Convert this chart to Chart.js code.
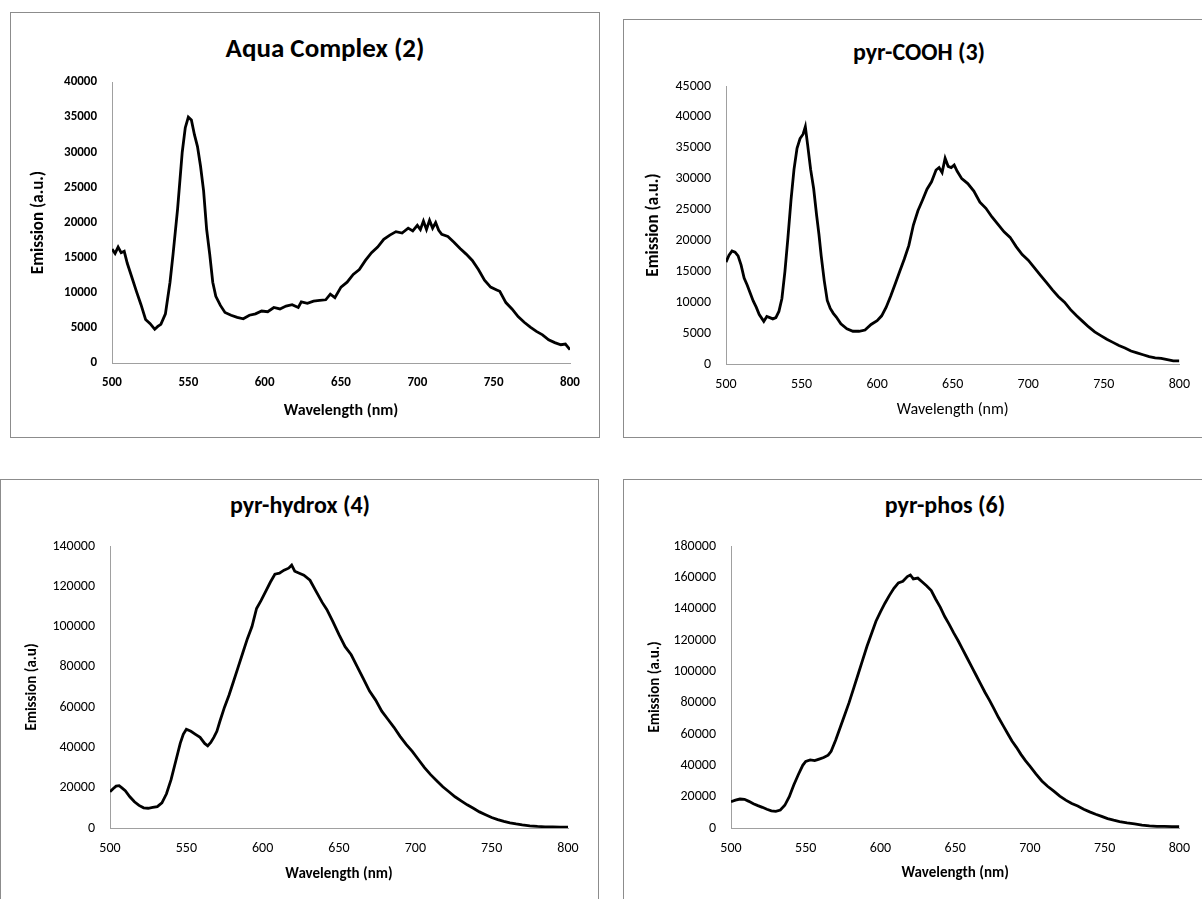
<!DOCTYPE html>
<html>
<head>
<meta charset="utf-8">
<title>Emission spectra</title>
<script src="https://cdn.jsdelivr.net/npm/chart.js@4.4.1/dist/chart.umd.min.js"></script>
<style>
  body { margin: 0; background: #fff; width: 1202px; height: 899px; overflow: hidden; position: relative; }
  .panel { position: absolute; border: 1px solid #8c8c8c; background: #fff; }
  .panel canvas { position: absolute; left: 0; top: 0; }
  .ptitle { position: absolute; transform: translate(-50%, -50%); white-space: nowrap;
            font-family: Carlito, Lato, sans-serif; font-weight: bold; color: #000; }
</style>
</head>
<body>

<div class="panel" id="p1" style="left:10px; top:12px; width:588px; height:424px;">
  <div class="ptitle" style="left:314px; top:34px; font-size:27px;">Aqua Complex (2)</div>
  <canvas id="c1" width="588" height="424"></canvas>
</div>
<div class="panel" id="p2" style="left:623px; top:19px; width:600px; height:417px;">
  <div class="ptitle" style="left:295px; top:31px; font-size:24px;">pyr-COOH (3)</div>
  <canvas id="c2" width="578" height="417"></canvas>
</div>
<div class="panel" id="p3" style="left:0px; top:479px; width:597px; height:430px;">
  <div class="ptitle" style="left:299px; top:24px; font-size:24px;">pyr-hydrox (4)</div>
  <canvas id="c3" width="597" height="419"></canvas>
</div>
<div class="panel" id="p4" style="left:623px; top:479px; width:600px; height:430px;">
  <div class="ptitle" style="left:321px; top:24px; font-size:24px;">pyr-phos (6)</div>
  <canvas id="c4" width="578" height="419"></canvas>
</div>

<script>
// Aqua Complex (2)
const aquaWl = [500,502,504,506,508,510,513,516,519,522,525,528,530,532,535,538,540,543,546,548,550,552,554,556,558,560,562,564,566,568,571,574,578,582,586,590,594,598,602,606,610,614,618,622,624,628,632,636,640,643,646,650,654,658,662,666,670,674,678,682,686,690,694,697,700,702,704,706,708,710,712,714,716,720,724,728,732,736,740,744,748,752,754,758,762,766,770,774,778,782,786,790,794,797,800];
const aquaEm = [16200,15600,16500,15700,15900,14200,12200,10200,8300,6200,5600,4800,5200,5500,7000,11500,15500,22000,30000,33500,35000,34600,32500,30800,28000,24500,19000,15500,11500,9500,8200,7200,6800,6500,6300,6800,7000,7400,7300,7900,7700,8100,8300,7900,8700,8500,8800,8900,9000,9800,9300,10800,11500,12600,13300,14600,15700,16500,17600,18200,18700,18500,19200,18800,19600,19000,20200,19000,20300,19200,20000,18900,18300,18000,17200,16300,15500,14600,13300,11800,10800,10400,10200,8600,7700,6600,5800,5100,4500,4000,3300,2900,2600,2700,1900];

// pyr-COOH (3)
const coohWl = [500,502,504,506,508,510,512,514,516,518,520,522,525,527,529,531,533,535,537,539,541,543,545,547,549,551,552.5,554,556,558,560,561.5,563,565,567,569,571,573,576,580,584,588,592,596,600,603,606,609,612,615,618,621,624,627,630,633,636,639,641,643,645,647,649,651,653,656,660,664,668,672,676,680,684,688,692,696,700,704,708,712,716,720,724,728,732,736,740,744,748,752,756,760,764,768,772,776,780,784,788,792,796,800];
const coohEm = [16500,17600,18300,18100,17500,16000,13900,12800,11500,10200,9200,8000,6900,7700,7500,7300,7500,8500,10600,15000,20500,26500,31500,34900,36500,37200,38400,35500,31500,28400,24000,21000,17500,13500,10300,9000,8200,7600,6500,5700,5300,5300,5500,6400,7000,7800,9200,11000,13000,15000,17000,19200,22500,24800,26500,28300,29500,31400,31800,31000,33300,32000,31800,32200,31200,30000,29200,28000,26200,25200,23800,22600,21400,20500,19000,17700,16800,15600,14400,13200,12000,10900,10000,8800,7800,6900,6000,5200,4600,4000,3500,3000,2600,2100,1800,1500,1200,1000,900,700,500,500];

// pyr-hydrox (4)
const hydroxWl = [500,502,504,506,508,510,513,516,519,522,525,528,531,534,537,540,543,546,548,550,553,556,559,562,564,566,568,570,572,575,578,581,584,587,590,593,596,599,602,605,608,611,614,617,619,621,624,627,631,635,639,642,646,650,654,658,662,666,670,674,678,682,686,690,694,698,702,706,710,714,718,722,726,730,734,738,742,746,750,754,758,762,766,770,775,780,785,790,795,800];
const hydroxEm = [18000,19500,20800,21000,19800,18500,15500,13000,11200,10000,9800,10200,10600,12500,17000,24000,33000,42000,46500,49000,48000,46500,45000,42000,40800,42500,45000,48000,53000,60000,66000,73000,80000,87000,94000,100000,109000,113000,117500,122000,126000,126500,128000,129000,130500,127500,126500,125500,123000,117500,112000,108500,102500,96000,90000,86000,80000,74000,68000,63500,58000,54000,50000,45500,41500,38000,34000,30000,26500,23500,20500,18000,15500,13500,11500,9800,8000,6600,5200,4200,3300,2600,2000,1500,1100,800,600,500,400,400];

// pyr-phos (6)
const phosWl = [500,503,506,509,512,515,518,521,524,527,530,533,536,539,542,545,548,550,553,556,559,562,565,567,570,573,576,579,582,585,588,591,594,597,600,603,606,609,612,615,618,620,622,625,628,631,634,637,640,643,646,649,652,655,658,661,664,667,670,673,676,679,682,685,688,691,694,697,700,704,708,712,716,720,724,728,732,736,740,744,748,752,756,760,765,770,775,780,785,790,795,800];
const phosEm = [16800,17800,18500,18300,17000,15500,14300,13200,12000,11000,10600,11500,14500,20000,27500,34000,40000,42500,43500,43000,44000,45000,46500,49000,56000,64000,72000,80000,89000,98000,107000,116000,124000,132000,138000,143500,148500,153000,156500,157500,160500,161500,159000,159500,157000,154500,151500,146000,141000,135000,130000,124500,119500,114000,108500,103000,97500,92000,86500,81500,76000,70500,65500,60500,55500,51500,47000,43000,39500,34500,30000,26500,23500,20300,17800,15600,14000,12000,10300,8800,7400,6000,5000,4100,3300,2700,1900,1400,1100,1000,900,800];

const xTicks = { min: 500, max: 800, step: 50 };
const fontFamily = "Carlito, Lato, sans-serif";

function toPoints(wl, em) {
  return wl.map((w, i) => ({ x: w, y: em[i] }));
}

function makePanel(id, cfg) {
  const canvas = document.getElementById(id);
  const W = canvas.width, H = canvas.height;
  const lineHeight = 1.2;
  new Chart(canvas, {
    type: 'line',
    data: {
      datasets: [{
        data: toPoints(cfg.wl, cfg.em),
        borderColor: '#000',
        borderWidth: 2.8,
        pointRadius: 0,
        tension: 0,
        fill: false
      }]
    },
    options: {
      responsive: false,
      animation: false,
      devicePixelRatio: 1,
      layout: { padding: { left: 0, right: W - cfg.plot.right, top: cfg.plot.top, bottom: 0 } },
      plugins: { legend: { display: false }, tooltip: { enabled: false } },
      scales: {
        x: {
          type: 'linear',
          min: xTicks.min, max: xTicks.max,
          grid: { display: false, drawTicks: false },
          border: { display: true, color: '#a0a0a0', width: 1 },
          ticks: {
            stepSize: xTicks.step, padding: cfg.xTickPad, color: '#000',
            font: { family: fontFamily, size: cfg.tickSize, weight: cfg.tickWeight },
            maxRotation: 0
          },
          title: {
            display: true, text: 'Wavelength (nm)', color: '#000',
            font: { family: fontFamily, size: cfg.xTitleSize, weight: cfg.xTitleWeight, lineHeight: lineHeight },
            padding: { top: 0, bottom: H - cfg.xTitleY - cfg.xTitleSize * lineHeight / 2 }
          },
          afterFit: (scale) => { scale.height = H - cfg.plot.bottom; }
        },
        y: {
          min: 0, max: cfg.yMax,
          grid: { display: false, drawTicks: false },
          border: { display: true, color: '#a0a0a0', width: 1 },
          ticks: {
            stepSize: cfg.yStep, padding: 15, color: '#000',
            font: { family: fontFamily, size: cfg.tickSize, weight: cfg.tickWeight },
            callback: (v) => String(v)
          },
          title: {
            display: true, text: cfg.yTitle, color: '#000',
            font: { family: fontFamily, size: cfg.yTitleSize, weight: 'bold', lineHeight: lineHeight },
            padding: { top: cfg.yTitleX - cfg.yTitleSize * lineHeight / 2, bottom: 0 }
          },
          afterFit: (scale) => { scale.width = cfg.plot.left; }
        }
      }
    }
  });
}

makePanel('c1', {
  wl: aquaWl, em: aquaEm, yMax: 40000, yStep: 5000, yTitle: 'Emission (a.u.)',
  plot: { left: 101, right: 559, top: 69, bottom: 350 },
  tickSize: 13, tickWeight: 'bold', yTitleSize: 17, xTitleSize: 16, xTitleWeight: 'bold',
  xTickPad: 12, xTitleY: 398, yTitleX: 28
});
makePanel('c2', {
  wl: coohWl, em: coohEm, yMax: 45000, yStep: 5000, yTitle: 'Emission (a.u.)',
  plot: { left: 102, right: 558, top: 66, bottom: 344 },
  tickSize: 14, tickWeight: 'normal', yTitleSize: 17, xTitleSize: 16, xTitleWeight: 'normal',
  xTickPad: 12, xTitleY: 390, yTitleX: 30
});
makePanel('c3', {
  wl: hydroxWl, em: hydroxEm, yMax: 140000, yStep: 20000, yTitle: 'Emission (a.u)',
  plot: { left: 109, right: 567, top: 66, bottom: 348 },
  tickSize: 14, tickWeight: 'normal', yTitleSize: 15, xTitleSize: 15, xTitleWeight: 'bold',
  xTickPad: 12, xTitleY: 394, yTitleX: 31
});
makePanel('c4', {
  wl: phosWl, em: phosEm, yMax: 180000, yStep: 20000, yTitle: 'Emission (a.u.)',
  plot: { left: 107, right: 561, top: 66, bottom: 348 },
  tickSize: 14, tickWeight: 'normal', yTitleSize: 15, xTitleSize: 15, xTitleWeight: 'bold',
  xTickPad: 12, xTitleY: 393, yTitleX: 31
});
</script>
</body>
</html>
